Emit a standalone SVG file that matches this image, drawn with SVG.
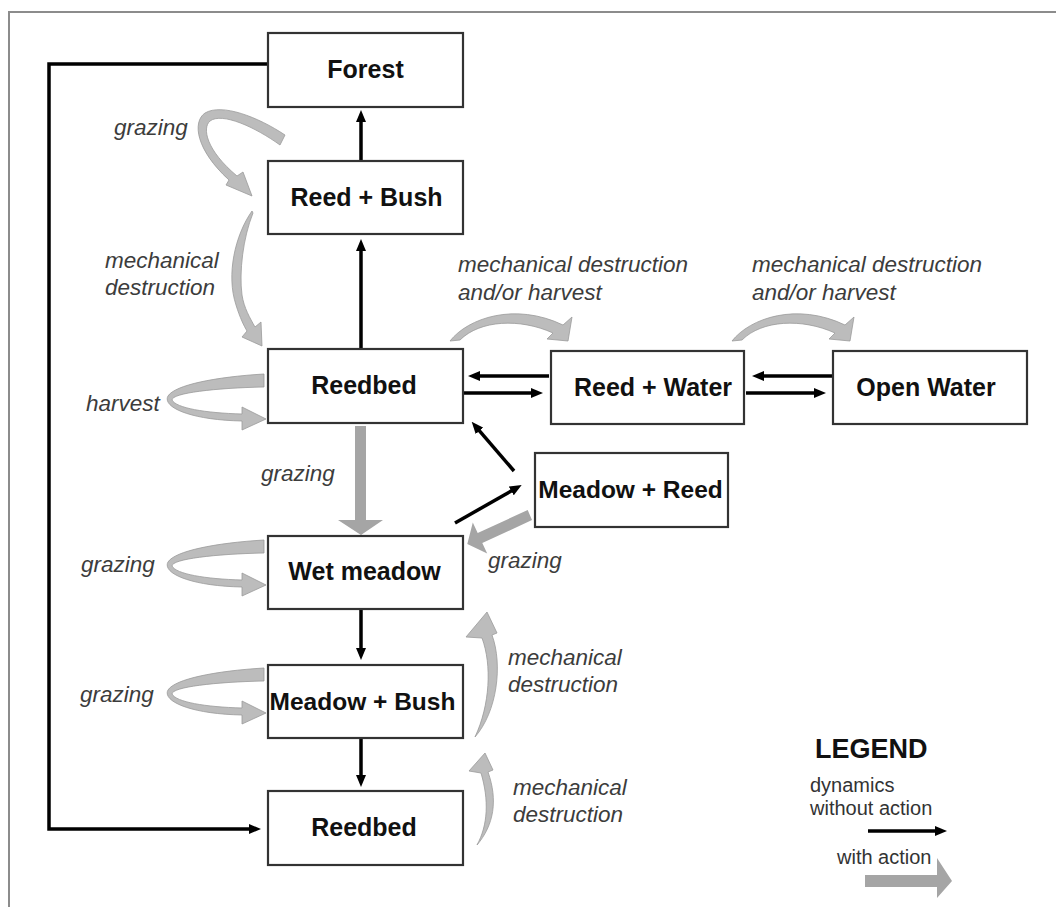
<svg xmlns="http://www.w3.org/2000/svg" width="1056" height="907" viewBox="0 0 1056 907">
  <style>
    .box { fill: #ffffff; stroke: #333333; stroke-width: 2.2; }
    .lbl { font-family: "Liberation Sans", Arial, sans-serif; font-weight: bold; font-size: 25px; fill: #111111; text-anchor: middle; }
    .act { font-family: "Liberation Sans", Arial, sans-serif; font-style: italic; font-size: 22.5px; fill: #3c3c3c; }
    .leg { font-family: "Liberation Sans", Arial, sans-serif; font-size: 20px; fill: #333333; }
    .dyn { fill: none; stroke: #000000; stroke-width: 3.5; marker-end: url(#ah); }
    .band { fill: #bcbcbc; stroke: #9a9a9a; stroke-width: 0.8; stroke-linejoin: round; }
    .thick { fill: #a5a5a5; }
  </style>
  <defs>
    <marker id="ah" markerUnits="userSpaceOnUse" markerWidth="12" markerHeight="10" viewBox="0 0 12 10" refX="2" refY="5" orient="auto">
      <path d="M0,0 L12,5 L0,10 Z" fill="#000000"/>
    </marker>
    <!-- self loop on the left side of a state box -->
    <path id="loop" d="M264,374 C215,377 175,385 168,396 C162,407 190,420 242,421 L242,430 L266,419 L242,407 L242,414 C205,413 176,408 172,400 C172,393 215,388 264,387 Z"/>
    <!-- arched action arrow over the horizontal links -->
    <path id="arch" d="M450,341 C468,318 515,302 563,325 L572,317 L568,341 L547,339 L553,333 C520,318 480,320 460,340 Z"/>
  </defs>

  <rect width="1056" height="907" fill="#ffffff"/>
  <!-- outer frame -->
  <path d="M9,907 V12 H1056" fill="none" stroke="#8c8c8c" stroke-width="2"/>

  <g id="connectors">
    <!-- dynamics without action -->
    <path class="dyn" d="M361,161 V120"/>
    <path class="dyn" d="M361,349 V249"/>
    <path class="dyn" d="M549,376 H478"/>
    <path class="dyn" d="M464,393 H533"/>
    <path class="dyn" d="M832,376 H762"/>
    <path class="dyn" d="M746,393 H816"/>
    <path class="dyn" d="M514,471 L478.2,429.3"/>
    <path class="dyn" d="M455,523 L513,490"/>
    <path class="dyn" d="M361,609 V650"/>
    <path class="dyn" d="M361,739 V777"/>
    <path class="dyn" d="M268,64 H49 V829 H251"/>

    <!-- actions -->
    <path class="band" d="M285,135 C258,117 222,103 205,113 C192,122 196,150 229,180 L226,185 L252,196 L243,172 L237,176 C206,150 202,128 210,121 C222,112 255,127 280,145 Z"/>
    <path class="band" d="M252,211 C235,235 226,275 236,305 C240,318 244,326 247,331 L242,337 L262,346 L261,322 L255,327 C250,318 244,308 242,295 C239,272 243,238 253,213 Z"/>
    <use href="#loop" class="band"/>
    <use href="#loop" class="band" transform="translate(0,166)"/>
    <use href="#loop" class="band" transform="translate(0,294)"/>
    <use href="#arch" class="band"/>
    <use href="#arch" class="band" transform="translate(282,0)"/>
    <path class="band" d="M475,737 C497,712 503,665 492,635 L497,633 L487,612 L466,637 L482,638 C492,665 490,705 475,737 Z"/>
    <path class="band" d="M477,845 C494,825 498,800 488,772 L493,770 L485,753 L469,771 L481,773 C489,800 488,825 477,845 Z"/>
    <path class="thick" d="M355,426 H366 V520 H383 L361,535 L338,520 H355 Z"/>
    <path class="thick" d="M532,520 L527.7,510 L477.7,533 L472.8,522.6 L467.3,544 L487.2,553.4 L482.3,543.1 Z"/>
  </g>

  <g id="forest"><rect class="box" x="268" y="33" width="195" height="74"/><text class="lbl" x="365.5" y="78">Forest</text></g>
  <g id="reed-bush"><rect class="box" x="268" y="161" width="195" height="73"/><text class="lbl" x="366.5" y="205.5">Reed + Bush</text></g>
  <g id="reedbed"><rect class="box" x="268" y="349" width="195" height="74"/><text class="lbl" x="364" y="394">Reedbed</text></g>
  <g id="reed-water"><rect class="box" x="551" y="351" width="193" height="73"/><text class="lbl" x="653" y="396">Reed + Water</text></g>
  <g id="open-water"><rect class="box" x="833" y="351" width="194" height="73"/><text class="lbl" x="926" y="396">Open Water</text></g>
  <g id="meadow-reed"><rect class="box" x="535" y="453" width="193" height="74"/><text class="lbl" x="630.5" y="497.5" style="font-size:24.5px">Meadow + Reed</text></g>
  <g id="wet-meadow"><rect class="box" x="268" y="536" width="195" height="73"/><text class="lbl" x="364.5" y="579.5">Wet meadow</text></g>
  <g id="meadow-bush"><rect class="box" x="268" y="665" width="195" height="73"/><text class="lbl" x="362.5" y="709.5" style="font-size:24.5px">Meadow + Bush</text></g>
  <g id="reedbed-final"><rect class="box" x="268" y="791" width="195" height="74"/><text class="lbl" x="364" y="836">Reedbed</text></g>

  <g id="action-labels">
    <text class="act" x="114" y="135">grazing</text>
    <text class="act" x="105" y="268">mechanical</text>
    <text class="act" x="105" y="295">destruction</text>
    <text class="act" x="86" y="411">harvest</text>
    <text class="act" x="261" y="481">grazing</text>
    <text class="act" x="81" y="572">grazing</text>
    <text class="act" x="80" y="702">grazing</text>
    <text class="act" x="488" y="568">grazing</text>
    <text class="act" x="458" y="272">mechanical destruction</text>
    <text class="act" x="458" y="300">and/or harvest</text>
    <text class="act" x="752" y="272">mechanical destruction</text>
    <text class="act" x="752" y="300">and/or harvest</text>
    <text class="act" x="508" y="665">mechanical</text>
    <text class="act" x="508" y="692">destruction</text>
    <text class="act" x="513" y="795">mechanical</text>
    <text class="act" x="513" y="822">destruction</text>
  </g>

  <g id="legend">
    <text x="815" y="758" style="font-family:'Liberation Sans',Arial,sans-serif;font-weight:bold;font-size:27px;fill:#111111">LEGEND</text>
    <text class="leg" x="810" y="792">dynamics</text>
    <text class="leg" x="810" y="815">without action</text>
    <path class="dyn" d="M868,831 H937"/>
    <text class="leg" x="837" y="864">with action</text>
    <path class="thick" d="M865,875 H937 V858 L952,881 L937,898 V887 H865 Z"/>
  </g>
</svg>
